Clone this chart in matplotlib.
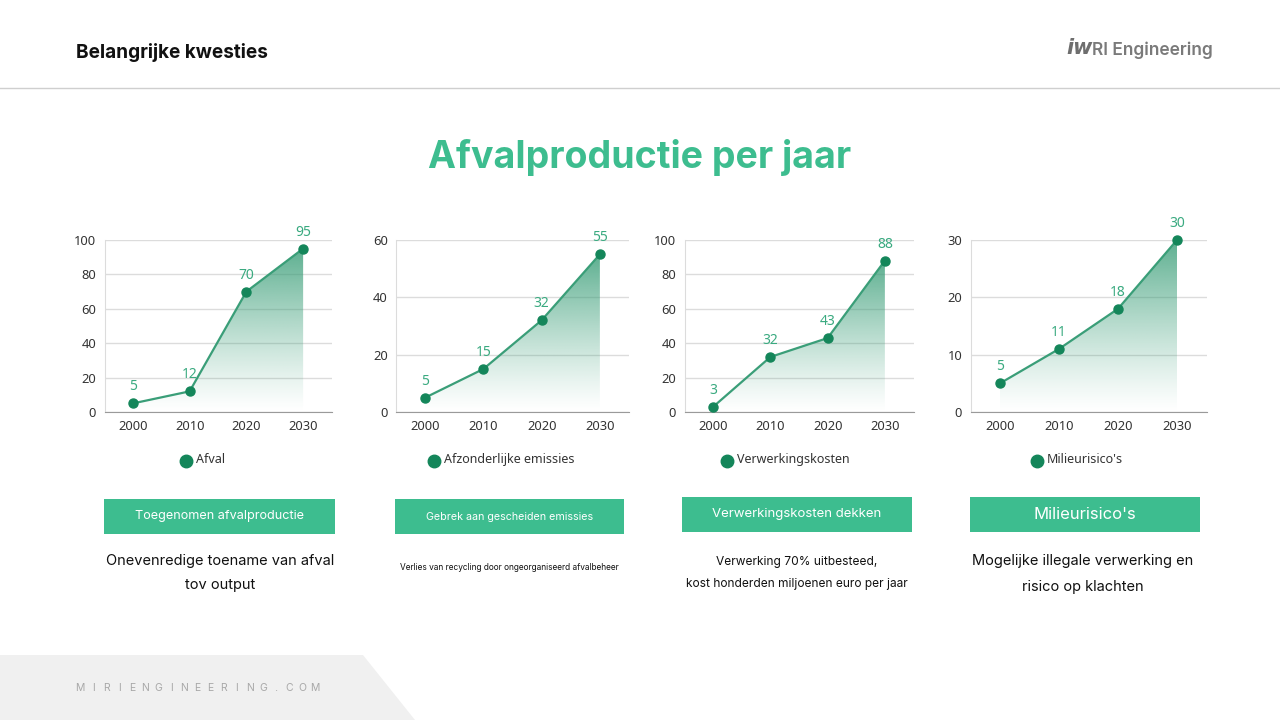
import numpy as np
import matplotlib
matplotlib.use("Agg")
import matplotlib.pyplot as plt
from matplotlib.patches import Rectangle, Polygon
from matplotlib.lines import Line2D

# ---------------- data ----------------
years = ["2000", "2010", "2020", "2030"]
afval = [5, 12, 70, 95]
emissies = [5, 15, 32, 55]
kosten = [3, 32, 43, 88]
risico = [5, 11, 18, 30]

series_values = [afval, emissies, kosten, risico]
series_names = ["Afval", "Afzonderlijke emissies", "Verwerkingskosten", "Milieurisico's"]
y_max = [100, 60, 100, 30]
y_ticks = [[0, 20, 40, 60, 80, 100], [0, 20, 40, 60], [0, 20, 40, 60, 80, 100], [0, 10, 20, 30]]

box_titles = ["Toegenomen afvalproductie", "Gebrek aan gescheiden emissies",
              "Verwerkingskosten dekken", "Milieurisico's"]
descriptions = ["Onevenredige toename van afval\ntov output",
                "Verlies van recycling door ongeorganiseerd afvalbeheer",
                "Verwerking 70% uitbesteed,\nkost honderden miljoenen euro per jaar",
                "Mogelijke illegale verwerking en\nrisico op klachten"]

header = "Belangrijke kwesties"
title = "Afvalproductie per jaar"
logo_text = "RI Engineering"
footer = "MIRIENGINEERING.COM"

# ---------------- style ----------------
W, H = 1280, 720
GREEN = "#3dbd8f"
LINE = "#3a9e78"
MARK = "#14865a"
LABEL = "#3aaa80"
CHART_FONT = "Noto Sans"
UI_FONT = "Inter"

fig = plt.figure(figsize=(12.8, 7.2), dpi=100)
fig.patch.set_facecolor("white")

def fx(x):
    return x / W

def fy(y):
    return 1 - y / H

# header
fig.text(fx(76), fy(53), header, fontsize=13.7, fontweight="bold", family=UI_FONT,
         color="#111111", va="center", ha="left")
fig.add_artist(Line2D([0, 1], [fy(88), fy(88)], transform=fig.transFigure,
                      color="#cfcfcf", lw=1))
fig.text(fx(1092), fy(50), logo_text, fontsize=12.5, fontweight="semibold", family=UI_FONT,
         color="#7a7a7a", va="center", ha="left")
fig.text(fx(1066), fy(48), "iw", fontsize=15, fontweight="bold", style="italic",
         family="DejaVu Sans", color="#6e6e6e", va="center", ha="left")

# title
fig.text(fx(640), fy(157), title, fontsize=27, fontweight="bold", family=UI_FONT,
         color=GREEN, va="center", ha="center")

# footer
fig.add_artist(Polygon([[0, fy(655)], [fx(363), fy(655)], [fx(415), fy(720)], [0, fy(720)]],
                       closed=True, transform=fig.transFigure, facecolor="#f0f0f0",
                       edgecolor="none", zorder=0))
n = len(footer)
x0f, x1f = 80, 315
for i, ch in enumerate(footer):
    xc = x0f + (x1f - x0f) * i / (n - 1)
    fig.text(fx(xc), fy(688), ch, fontsize=7.5, family=UI_FONT, color="#a8a8a8",
             ha="center", va="center")

# chart layout (pixels)
axes_lr = [(104.5, 331.5), (396, 629), (684.5, 913.5), (970.5, 1206.5)]
ax_top, ax_bot = 240, 412
legend_pos = [(186, 196), (434, 444), (727, 737), (1037, 1047)]
boxes = [(104, 335, 499, 534), (395, 624, 499, 534), (682, 912, 497, 532), (970, 1200, 497, 532)]
box_fs = [9.1, 7.7, 9.5, 12]
desc_cfg = [(220, 573, 10.5, 2.0), (509, 567, 6, 1.2), (797, 573, 8.6, 2.05), (1083, 574, 10.5, 2.0)]

cmap_rgb = np.array(matplotlib.colors.to_rgb(LINE))

for i in range(4):
    l, r = axes_lr[i]
    ax = fig.add_axes([fx(l), fy(ax_bot), fx(r - l), (ax_bot - ax_top) / H])
    ax.set_facecolor("none")
    vals = series_values[i]
    xs = np.arange(len(years))
    ax.set_xlim(-0.5, len(years) - 0.5)
    ax.set_ylim(0, y_max[i])
    ax.set_yticks(y_ticks[i])
    ax.set_xticks(xs)
    ax.set_xticklabels(years)
    ax.grid(axis="y", color="#dcdcdc", lw=1)
    ax.set_axisbelow(True)
    for s in ["top", "right"]:
        ax.spines[s].set_visible(False)
    ax.spines["left"].set_color("#dcdcdc")
    ax.spines["bottom"].set_color("#9a9a9a")
    ax.tick_params(length=0, labelsize=9.3, colors="#333333", pad=6)
    for lab in ax.get_xticklabels() + ax.get_yticklabels():
        lab.set_family(CHART_FONT)

    # gradient fill
    grad = np.zeros((256, 2, 4))
    alpha = np.linspace(0.0, 0.85, 256) ** 1.2
    grad[:, :, :3] = cmap_rgb
    grad[:, :, 3] = alpha[:, None]
    top = max(vals)
    im = ax.imshow(grad, extent=[xs[0], xs[-1], 0, top], origin="lower",
                   aspect="auto", zorder=1, interpolation="bilinear")
    poly = Polygon(np.column_stack([np.r_[xs[0], xs, xs[-1]], np.r_[0, vals, 0]]),
                   closed=True, facecolor="none", edgecolor="none", transform=ax.transData)
    ax.add_patch(poly)
    im.set_clip_path(poly)

    ax.plot(xs, vals, color=LINE, lw=1.6, zorder=3)
    ax.plot(xs, vals, "o", color=MARK, ms=6.5, zorder=4, clip_on=False)
    for xv, v in zip(xs, vals):
        ax.annotate(str(v), (xv, v), xytext=(0, 6.5), textcoords="offset points",
                    ha="center", va="bottom", fontsize=10, color=LABEL,
                    family=CHART_FONT, annotation_clip=False)

    # legend
    mx, tx = legend_pos[i]
    fig.add_artist(Line2D([fx(mx)], [fy(461)], marker="o", color=MARK, ms=9,
                          transform=fig.transFigure, linestyle="none"))
    fig.text(fx(tx), fy(460), series_names[i], fontsize=9, family=CHART_FONT,
             color="#333333", ha="left", va="center")

    # box
    bl, br, bt, bb = boxes[i]
    fig.add_artist(Rectangle((fx(bl), fy(bb)), fx(br - bl), (bb - bt) / H,
                             transform=fig.transFigure, facecolor=GREEN, edgecolor="none"))
    fig.text(fx((bl + br) / 2), fy((bt + bb) / 2), box_titles[i], fontsize=box_fs[i],
             family=UI_FONT, color="white", ha="center", va="center")

    # description
    cx, cy, fs, ls = desc_cfg[i]
    fig.text(fx(cx), fy(cy), descriptions[i], fontsize=fs, family=UI_FONT,
             color="#111111", ha="center", va="center", linespacing=ls)

fig.savefig("out.png", dpi=100)
